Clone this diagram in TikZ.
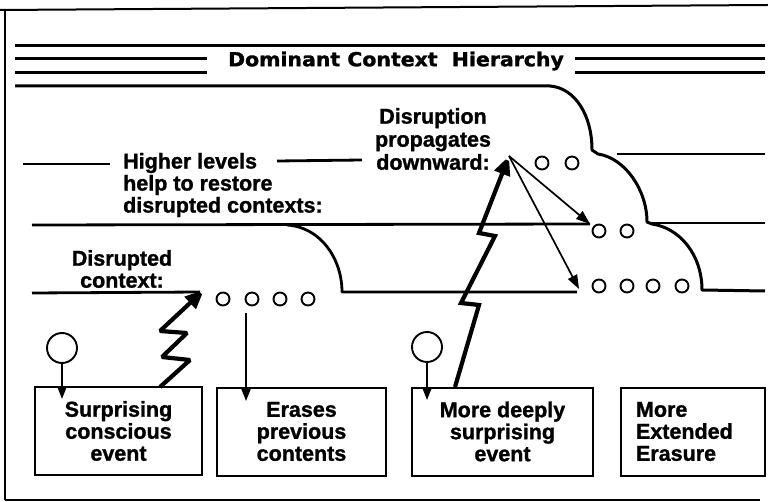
\documentclass[tikz,border=0pt]{standalone}
\usepackage{fontspec}
\setmainfont[BoldFeatures={FakeBold=1.2}]{Liberation Sans}
\newfontfamily\titlefont[FakeStretch=1.06, BoldFeatures={FakeBold=1.5}]{DejaVu Sans}
\usetikzlibrary{arrows.meta}
\begin{document}
\begin{tikzpicture}[x=1pt,y=-1pt,
  titleline/.style={line width=3pt},
  lev/.style={line width=2.8pt},
  lbl/.style={font=\bfseries\fontsize{21.5}{22}\selectfont, inner sep=0pt, align=center},
  box/.style={draw, line width=2pt, minimum height=88pt, inner sep=0pt, align=center,
    font=\bfseries\fontsize{21.5}{22}\selectfont},
  dot/.style={circle, draw, line width=1.9pt, minimum size=13pt, inner sep=0pt},
  bigdot/.style={circle, draw, line width=1.9pt, minimum size=30pt, inner sep=0pt},
  bolt/.style={line width=4.2pt, line join=miter, miter limit=2, -{Triangle[length=19pt,width=16pt]}},
  thinarr/.style={line width=1.7pt, -{Triangle[length=14pt,width=10pt]}},
  stem/.style={line width=1.7pt, -{Triangle[length=12pt,width=9pt]}}
]
\useasboundingbox (0,0) rectangle (768,502);
\fill[white] (0,0) rectangle (768,502);

% frame
\draw[line width=2pt] (0,10) -- (768,5);
\draw[line width=1.5pt] (5,10) -- (5,500);
\draw[line width=2.5pt] (5,500) -- (760,500);

% title band
\node[font=\titlefont\bfseries\fontsize{19.3}{19}\selectfont, inner sep=0pt] (title) at (396,61) {Dominant Context\ \ Hierarchy};
\draw[titleline] (15,46) -- (765,46);
\draw[titleline] (15,59) -- (207,59);
\draw[titleline] (575,59) -- (765,59);
\draw[titleline] (15,73) -- (207,73);
\draw[titleline] (575,73) -- (765,73);
\draw[titleline, line join=round] (15,86) -- (550,86)
  .. controls (575,88) and (592,115) .. (592,150) -- (598,154)
  .. controls (625,158) and (647,190) .. (647,222) -- (652,224)
  .. controls (680,228) and (702,255) .. (702,290) -- (765,291);

% level lines
\draw[lev] (23,164) -- (110,164);
\draw[lev] (277,161) -- (362,160);
\draw[lev] (617,154) -- (765,154);
\coordinate (tipA) at (590,224);
\coordinate (tipB) at (579,289);
\coordinate (tipL) at (204,290);
\draw[lev] (32,225) -- (tipA);
\draw[lev] (650,223) -- (765,223);
\draw[lev, line join=round] (287,225) .. controls (320,227) and (342,258) .. (342,292) -- (577,292);
\draw[lev] (32,293) -- (200,292);

% labels
\node[lbl, align=left, anchor=west] (higher) at (123,185) {Higher levels\\help to restore\\disrupted contexts:};
\node[lbl] (disrupted) at (122,269) {Disrupted\\context:};
\node[lbl, font=\bfseries\fontsize{21.5}{23}\selectfont] (propag) at (433,139) {Disruption\\propagates\\downward:};

% small circles
\foreach \i/\x in {1/223,2/252,3/280,4/308}{\node[dot] (l\i) at (\x,299) {};}
\foreach \i/\x in {1/542,2/572}{\node[dot] (u\i) at (\x,163) {};}
\foreach \i/\x in {1/599,2/627}{\node[dot] (m\i) at (\x,231) {};}
\foreach \i/\x in {1/599,2/627,3/653,4/682}{\node[dot] (d\i) at (\x,286) {};}

% boxes
\node[box, minimum width=167pt] (b1) at (118.5,431) {Surprising\\conscious\\event};
\node[box, minimum width=169pt] (b2) at (301.5,431.5) {Erases\\previous\\contents};
\node[box, minimum width=181pt] (b3) at (502.5,431.5) {More deeply\\surprising\\event};
\node[box, minimum width=144pt, text width=114pt, inner xsep=15pt, align=left] (b4) at (693,431.5) {More\\Extended\\Erasure};

% event circles
\node[bigdot] (c1) at (62,348) {};
\node[bigdot] (c2) at (427,347) {};
\coordinate (t1) at (62,399);
\coordinate (t2) at (427,400);
\draw[stem] (c1) -- (t1);
\draw[stem] (c2) -- (t2);

% erase arrow
\coordinate (e0) at (246,313);
\coordinate (e1) at (246,401);
\draw[stem] (e0) -- (e1);

% bolts
\coordinate (s1) at (160,387);
\coordinate (s2) at (455,387);
\coordinate (hub) at (509,156);
\draw[bolt] (s1) -- (190,360) -- (162,357) -- (187,333) -- (160,331) -- (tipL);
\draw[bolt] (s2) -- (479,305) -- (461,303) -- (495,236) -- (479,233) -- (hub);

% propagation arrows
\draw[thinarr] (hub) -- (tipA);
\draw[thinarr] (hub) -- (tipB);
\end{tikzpicture}
\end{document}
